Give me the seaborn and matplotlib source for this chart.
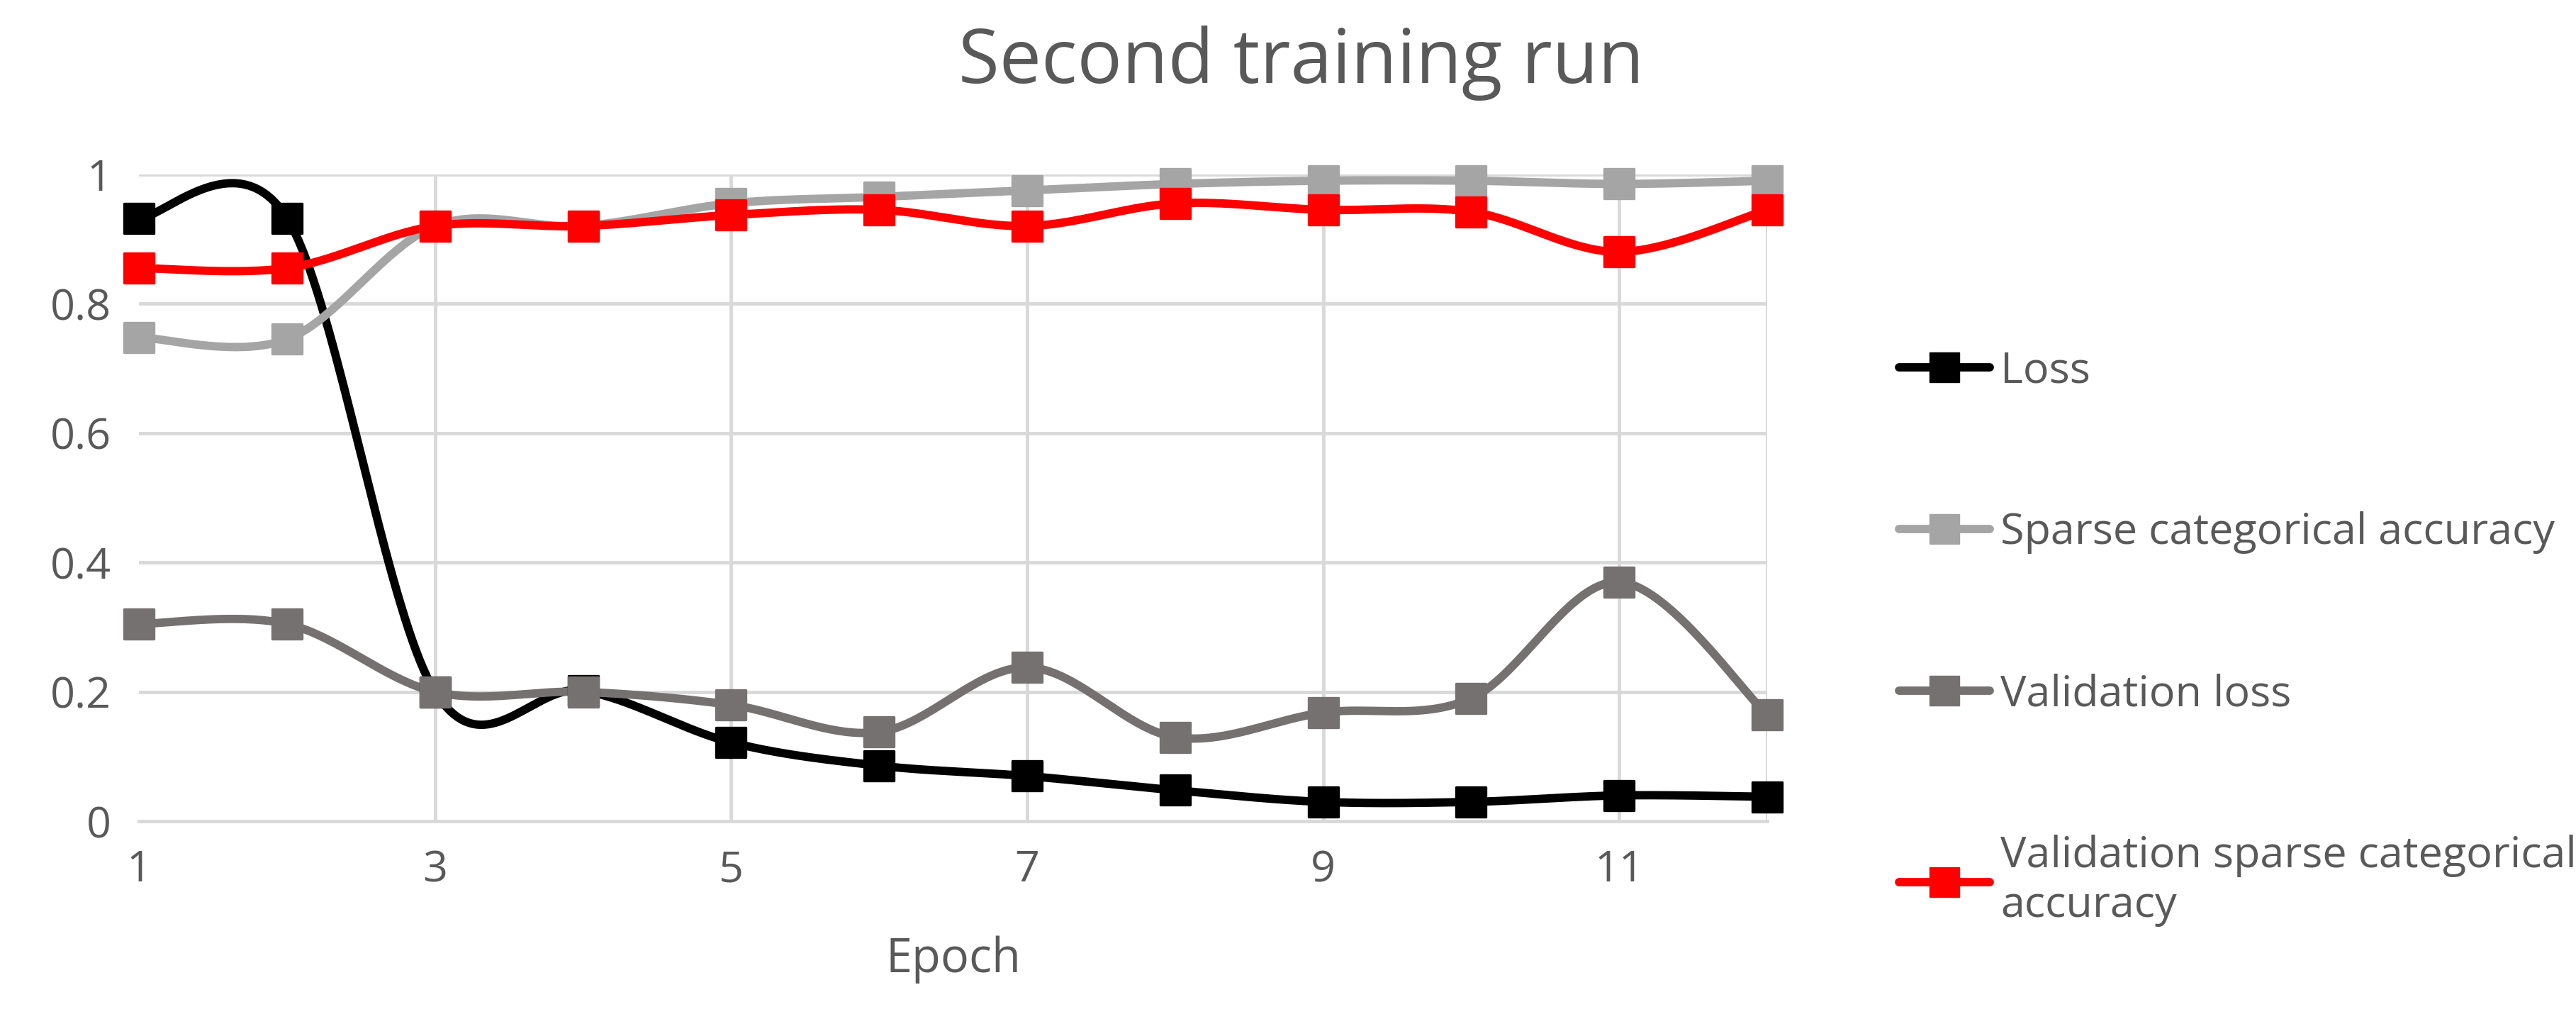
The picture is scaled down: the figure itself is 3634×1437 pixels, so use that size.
import numpy as np
import pandas as pd
import matplotlib
matplotlib.use("Agg")
import matplotlib.pyplot as plt
import seaborn as sns
from matplotlib.lines import Line2D

epochs = [1, 2, 3, 4, 5, 6, 7, 8, 9, 10, 11, 12]
loss = [0.932, 0.932, 0.200, 0.202, 0.122, 0.086, 0.070, 0.048, 0.030, 0.030, 0.040, 0.038]
sparse_acc = [0.748, 0.745, 0.920, 0.920, 0.955, 0.965, 0.975, 0.985, 0.990, 0.990, 0.985, 0.990]
val_loss = [0.305, 0.305, 0.200, 0.200, 0.180, 0.138, 0.238, 0.130, 0.168, 0.190, 0.370, 0.165]
val_acc = [0.855, 0.855, 0.920, 0.920, 0.937, 0.945, 0.920, 0.955, 0.945, 0.942, 0.880, 0.945]

names = ["Loss", "Sparse categorical accuracy", "Validation loss",
         "Validation sparse categorical accuracy"]
series = [loss, sparse_acc, val_loss, val_acc]
colors = ["#000000", "#A5A5A5", "#767171", "#FF0000"]
labels = ["Loss", "Sparse categorical accuracy", "Validation loss",
          "Validation sparse categorical\naccuracy"]

def smooth(x, y, n=40):
    x = np.asarray(x, float); y = np.asarray(y, float)
    P = np.column_stack([x, y])
    Pe = np.vstack([P[0], P, P[-1]])
    out = []
    t = np.linspace(0, 1, n)[:, None]
    for i in range(len(P) - 1):
        p0, p3 = Pe[i + 1], Pe[i + 2]
        c1 = p0 + (Pe[i + 2] - Pe[i]) / 6
        c2 = p3 - (Pe[i + 3] - Pe[i + 1]) / 6
        seg = (1 - t) ** 3 * p0 + 3 * (1 - t) ** 2 * t * c1 + 3 * (1 - t) * t ** 2 * c2 + t ** 3 * p3
        out.append(seg)
    s = np.vstack(out)
    return s[:, 0], s[:, 1]

sns.set_style("white")
plt.rcParams['font.family'] = ['Open Sans', 'DejaVu Sans']
txt = "#595959"

fig = plt.figure(figsize=(36.34, 14.37), dpi=100)
ax = fig.add_axes([0.054, 0.194, 0.632, 0.635])

order = [2, 0, 1, 3]
for i in order:
    sx, sy = smooth(epochs, series[i])
    ax.plot(sx, sy, color=colors[i], lw=8.5, zorder=3 + i, solid_capstyle="round", clip_on=False)
    df = pd.DataFrame({"Epoch": epochs, "v": series[i]})
    sns.scatterplot(data=df, x="Epoch", y="v", ax=ax, marker="s", s=900,
                    color=colors[i], edgecolor=colors[i], zorder=10 + i, legend=False,
                    clip_on=False)

ax.set_xlim(1, 12)
ax.set_ylim(0, 1)
ax.set_xticks([1, 3, 5, 7, 9, 11])
ax.set_yticks([0, 0.2, 0.4, 0.6, 0.8, 1])
ax.set_yticklabels(["0", "0.2", "0.4", "0.6", "0.8", "1"])
for v in [3, 5, 7, 9, 11, 12]:
    ax.axvline(v, color="#D9D9D9", lw=3.5, zorder=1)
for v in [0.2, 0.4, 0.6, 0.8, 1.0]:
    ax.axhline(v, color="#D9D9D9", lw=3.5, zorder=1)
for sp in ["top", "right", "left"]:
    ax.spines[sp].set_visible(False)
ax.spines["bottom"].set_color("#D9D9D9")
ax.spines["bottom"].set_linewidth(3.5)
ax.tick_params(axis="both", length=0, labelsize=44, labelcolor=txt, pad=28)
ax.set_xlabel("Epoch", fontsize=48, color=txt, labelpad=45)
ax.set_ylabel("")
fig.suptitle("Second training run", fontsize=76, color=txt, x=0.505, y=0.975)

handles = [Line2D([0], [0], color=c, lw=8.5, marker="s", markersize=30) for c in colors]
fig.legend(handles, labels, loc="upper left", bbox_to_anchor=(0.722, 0.695),
           frameon=False, fontsize=44, labelcolor=txt, labelspacing=2.75,
           handlelength=2.1, handletextpad=0.25)

fig.savefig("out.png", dpi=100)
